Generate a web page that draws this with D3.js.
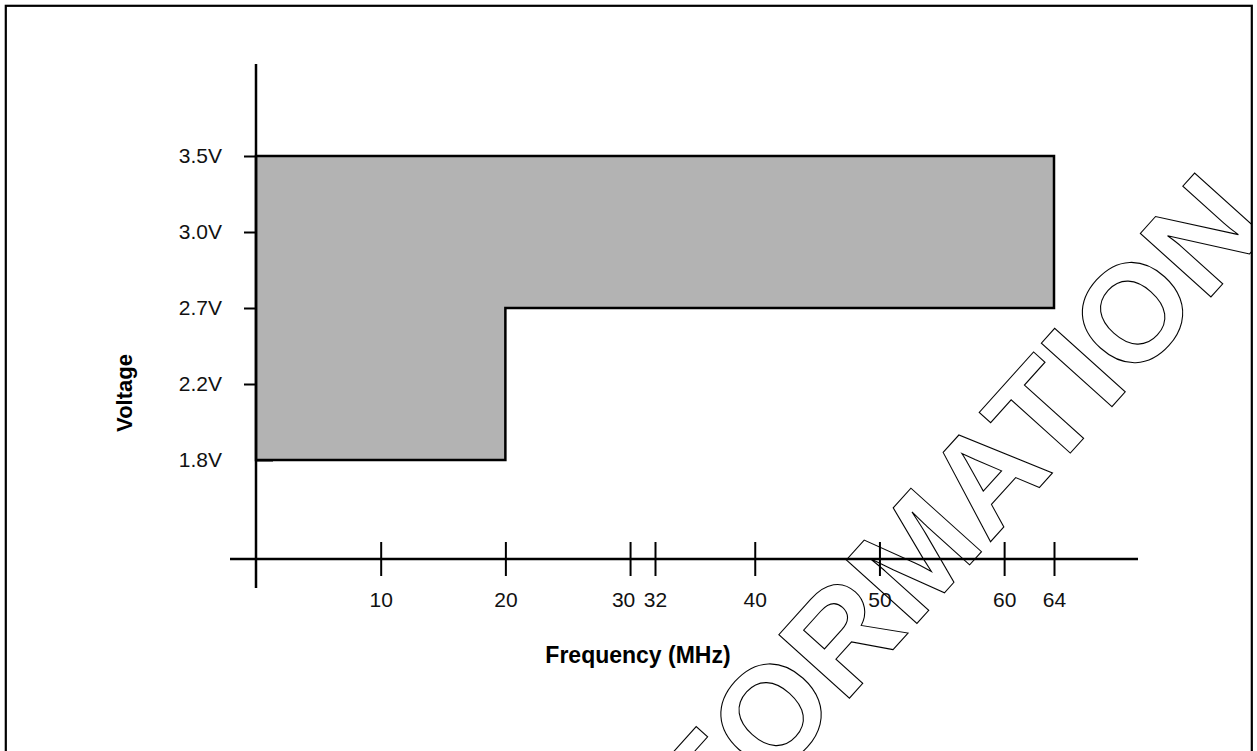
<!DOCTYPE html>
<html lang="en">
<head>
<meta charset="UTF-8"/>
<title>Voltage vs Frequency</title>
<script src="https://d3js.org/d3.v7.min.js"></script>
<style>
  body { margin: 0; background: #fff; }
  svg { display: block; }
</style>
</head>
<body>
<div id="chart-container"></div>
<script>
var w = 1257;
var h = 751;

// data
var freqTicks = [10, 20, 30, 32, 40, 50, 60, 64];
var voltTicks = [1.8, 2.2, 2.7, 3.0, 3.5];
var voltLabels = ["1.8V", "2.2V", "2.7V", "3.0V", "3.5V"];
var bandFreq = [0, 20, 64];      // edges of the frequency bands (MHz)
var bandMinVolt = [1.8, 2.7];    // minimum voltage in each band
var maxVolt = 3.5;
var watermark = "ADVANCE INFORMATION";

var svg = d3.select("#chart-container")
  .append("svg")
  .attr("width", w)
  .attr("height", h);

var xScale = d3.scaleLinear()
  .domain([0, 64])
  .range([256, 1054]);

var yScale = d3.scalePoint()
  .domain(voltTicks)
  .range([460, 156]);

// frame
svg.append("clipPath").attr("id", "frame-clip")
  .append("rect")
  .attr("x", 6).attr("y", 6).attr("width", 1245).attr("height", 800);

svg.append("rect")
  .attr("x", 5.8).attr("y", 5.8)
  .attr("width", 1246).attr("height", 800)
  .attr("fill", "none")
  .attr("stroke", "black")
  .attr("stroke-width", 2.2);

// operating region
var pts = [];
pts.push([bandFreq[0], maxVolt]);
pts.push([bandFreq[bandFreq.length - 1], maxVolt]);
for (var i = bandMinVolt.length - 1; i >= 0; i--) {
  pts.push([bandFreq[i + 1], bandMinVolt[i]]);
  pts.push([bandFreq[i], bandMinVolt[i]]);
}

svg.append("path")
  .attr("d", d3.line()
    .x(function (d) { return xScale(d[0]); })
    .y(function (d) { return yScale(d[1]); })(pts) + "Z")
  .attr("fill", "#b3b3b3")
  .attr("stroke", "black")
  .attr("stroke-width", 2.5);

// x axis
var xAxis = d3.axisBottom(xScale)
  .tickValues(freqTicks)
  .tickFormat(d3.format("d"))
  .tickSize(17)
  .tickPadding(16);

var gx = svg.append("g")
  .attr("transform", "translate(0,559)")
  .call(xAxis);
gx.select(".domain").remove();
gx.selectAll(".tick line")
  .attr("y1", -17)
  .attr("stroke", "black")
  .attr("stroke-width", 2);
gx.selectAll(".tick text")
  .attr("font-family", "'Liberation Sans', Arial, sans-serif")
  .attr("font-size", "21px")
  .attr("fill", "#111")
  // nudge a label left when the next tick is very close
  .attr("dx", function (d, i) {
    var next = freqTicks[i + 1];
    if (next !== undefined && xScale(next) - xScale(d) < 30) return -7;
    return 0;
  });

svg.append("line")
  .attr("x1", xScale.range()[0] - 26).attr("x2", xScale.range()[1] + 84)
  .attr("y1", 559).attr("y2", 559)
  .attr("stroke", "black").attr("stroke-width", 2.5);

// y axis
var yAxis = d3.axisLeft(yScale)
  .tickFormat(function (d, i) { return voltLabels[i]; })
  .tickSize(12)
  .tickPadding(22);

var gy = svg.append("g")
  .attr("transform", "translate(" + xScale(0) + ",0)")
  .call(yAxis);
gy.select(".domain").remove();
gy.selectAll(".tick line")
  .attr("stroke", "black")
  .attr("stroke-width", 2);
// the lowest tick pokes through the axis
gy.selectAll(".tick line")
  .filter(function (d) { return d === voltTicks[0]; })
  .attr("x2", 17);
gy.selectAll(".tick text")
  .attr("font-family", "'Liberation Sans', Arial, sans-serif")
  .attr("font-size", "21px")
  .attr("fill", "#111");

svg.append("line")
  .attr("x1", xScale(0)).attr("x2", xScale(0))
  .attr("y1", 64).attr("y2", 588)
  .attr("stroke", "black").attr("stroke-width", 2.5);

// axis titles
svg.append("text")
  .attr("x", 638).attr("y", 663)
  .attr("text-anchor", "middle")
  .attr("font-family", "'Liberation Sans', Arial, sans-serif")
  .attr("font-weight", "bold")
  .attr("font-size", "23px")
  .text("Frequency (MHz)");

svg.append("text")
  .attr("transform", "translate(132,393) rotate(-90)")
  .attr("text-anchor", "middle")
  .attr("font-family", "'Liberation Sans', Arial, sans-serif")
  .attr("font-weight", "bold")
  .attr("font-size", "22px")
  .text("Voltage");

// watermark
svg.append("g")
  .attr("clip-path", "url(#frame-clip)")
  .append("text")
  .attr("transform", "translate(1272,229) rotate(-48)")
  .attr("text-anchor", "end")
  .attr("font-family", "'Liberation Sans', Arial, sans-serif")
  .attr("font-weight", "bold")
  .attr("font-size", "138px")
  .attr("letter-spacing", "1px")
  .attr("fill", "none")
  .attr("stroke", "black")
  .attr("stroke-width", 1.1)
  .text(watermark);
</script>
</body>
</html>
